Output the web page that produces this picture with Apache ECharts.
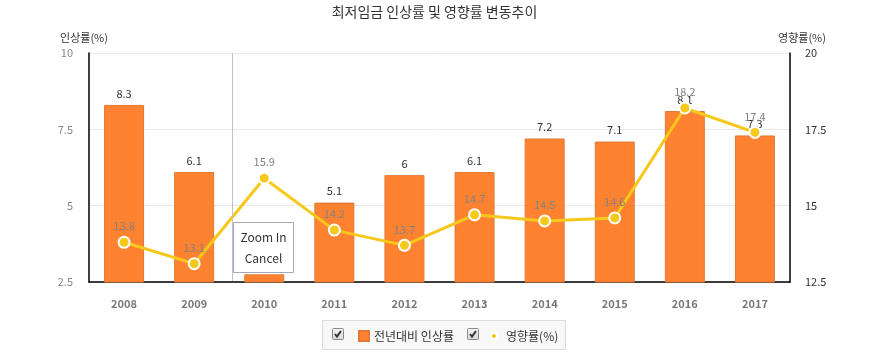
<!DOCTYPE html>
<html><head><meta charset="utf-8">
<script src="https://cdn.jsdelivr.net/npm/echarts@6/dist/echarts.min.js"></script>
<style>html,body{margin:0;padding:0;background:#fff}#c{width:869px;height:358px}</style>
</head><body><div id="c"></div>
<script>
const titleText = '최저임금 인상률 및 영향률 변동추이';
const categories = ['2008','2009','2010','2011','2012','2013','2014','2015','2016','2017'];
const raiseName = '전년대비 인상률';
const raiseValues = [8.3, 6.1, 2.75, 5.1, 6, 6.1, 7.2, 7.1, 8.1, 7.3];
const impactName = '영향률(%)';
const impactValues = [13.8, 13.1, 15.9, 14.2, 13.7, 14.7, 14.5, 14.6, 18.2, 17.4];
const leftAxisName = '인상률(%)';
const rightAxisName = '영향률(%)';
const zoomMenu = ['Zoom In', 'Cancel'];

const FONT = '"Noto Sans CJK KR", "Noto Sans", sans-serif';
const chart = echarts.init(document.getElementById('c'), null, {renderer:'canvas'});

function checkbox(x, y) {
  return {
    type: 'group', left: x, top: y, silent: true,
    children: [
      {type:'rect', shape:{x:0,y:0,width:11,height:11,r:1},
       style:{fill:new echarts.graphic.LinearGradient(0,0,0,1,[{offset:0,color:'#f4f4f4'},{offset:1,color:'#d8d8d8'}]), stroke:'#8a8a8a', lineWidth:1}},
      {type:'polyline', shape:{points:[[2.5,5.5],[4.5,8],[8.5,2.5]]}, style:{stroke:'#333', lineWidth:2, fill:null}}
    ]
  };
}

chart.setOption({
  animation: false,
  textStyle: {fontFamily: FONT},
  title: {text: titleText, left: 'center', top: 0,
    textStyle: {fontSize: 14, fontWeight: 'normal', color: '#333', fontFamily: FONT}},
  grid: {left: 89, right: 79, top: 53, bottom: 76},
  legend: [
    {data: [raiseName], left: 353, top: 325, itemWidth: 10, itemHeight: 10, icon: 'rect', itemGap: 0,
     textStyle: {fontSize: 12, color: '#333', fontFamily: FONT, padding: [0,0,0,0]}},
    {data: [impactName], left: 485, top: 325, itemWidth: 6, itemHeight: 6, icon: 'circle',
     textStyle: {fontSize: 12, color: '#333', fontFamily: FONT, padding: [0,0,0,4]}}
  ],
  xAxis: {type: 'category', data: categories,
    axisLine: {lineStyle: {color: '#000', width: 1.5}},
    axisTick: {show: false},
    axisLabel: {color: '#777', fontSize: 11, fontWeight: 'bold', margin: 16, fontFamily: FONT},
    splitLine: {show: false}},
  yAxis: [
    {type: 'value', min: 2.5, max: 10, interval: 2.5, name: leftAxisName, nameGap: 10,
     nameTextStyle: {color: '#333', fontSize: 11, align: 'center', padding: [0,10,0,0], fontFamily: FONT},
     axisLine: {show: true, lineStyle: {color: '#000', width: 1.5}},
     axisTick: {show: false},
     axisLabel: {color: '#888', fontSize: 11, margin: 16},
     splitLine: {show: true, lineStyle: {color: '#e9e9e9'}}},
    {type: 'value', min: 12.5, max: 20, interval: 2.5, name: rightAxisName, nameGap: 10,
     nameTextStyle: {color: '#333', fontSize: 11, align: 'center', padding: [0,0,0,24], fontFamily: FONT},
     axisLine: {show: true, lineStyle: {color: '#000', width: 1.5}},
     axisTick: {show: false},
     axisLabel: {color: '#333', fontSize: 11, margin: 15},
     splitLine: {show: false}}
  ],
  series: [
    {name: raiseName, type: 'bar', yAxisIndex: 0, data: raiseValues, barWidth: 40,
     itemStyle: {color: '#ff8230', borderColor: '#e27a35', borderWidth: 1},
     label: {show: true, position: 'top', distance: 6, color: '#333', fontSize: 11,
       formatter: p => p.dataIndex === 2 ? '' : String(p.value)},
     z: 2},
    {name: impactName, type: 'line', yAxisIndex: 1, data: impactValues,
     symbol: 'circle', symbolSize: 11,
     lineStyle: {color: '#f6c81a', width: 3},
     itemStyle: {color: '#f6c81a', borderColor: '#fff', borderWidth: 2},
     label: {show: true, position: 'top', distance: 4, color: '#808080', fontSize: 11},
     z: 3}
  ],
  graphic: [
    {type: 'line', silent: true, shape: {x1: 232.5, y1: 53, x2: 232.5, y2: 281}, style: {stroke: '#c0c0d4', lineWidth: 1}, z: 50},
    {type: 'rect', left: 322, top: 320, silent: true, shape: {width: 243, height: 29},
     style: {fill: '#f8f8f8', stroke: '#dcdcdc', lineWidth: 1}, z: -10},
    Object.assign(checkbox(332, 328), {z: 10}),
    Object.assign(checkbox(467, 328), {z: 10}),
    {type: 'group', left: 233, top: 222, z: 100, silent: true, children: [
      {type: 'rect', shape: {x:0, y:0, width: 60, height: 50}, style: {fill: '#fff', stroke: '#a8a8b8', lineWidth: 1}},
      {type: 'text', x: 30, y: 15, style: {text: zoomMenu[0], fill: '#333', font: '12px ' + FONT, align: 'center', verticalAlign: 'middle'}},
      {type: 'text', x: 30, y: 36, style: {text: zoomMenu[1], fill: '#333', font: '12px ' + FONT, align: 'center', verticalAlign: 'middle'}}
    ]}
  ]
});
</script></body></html>
